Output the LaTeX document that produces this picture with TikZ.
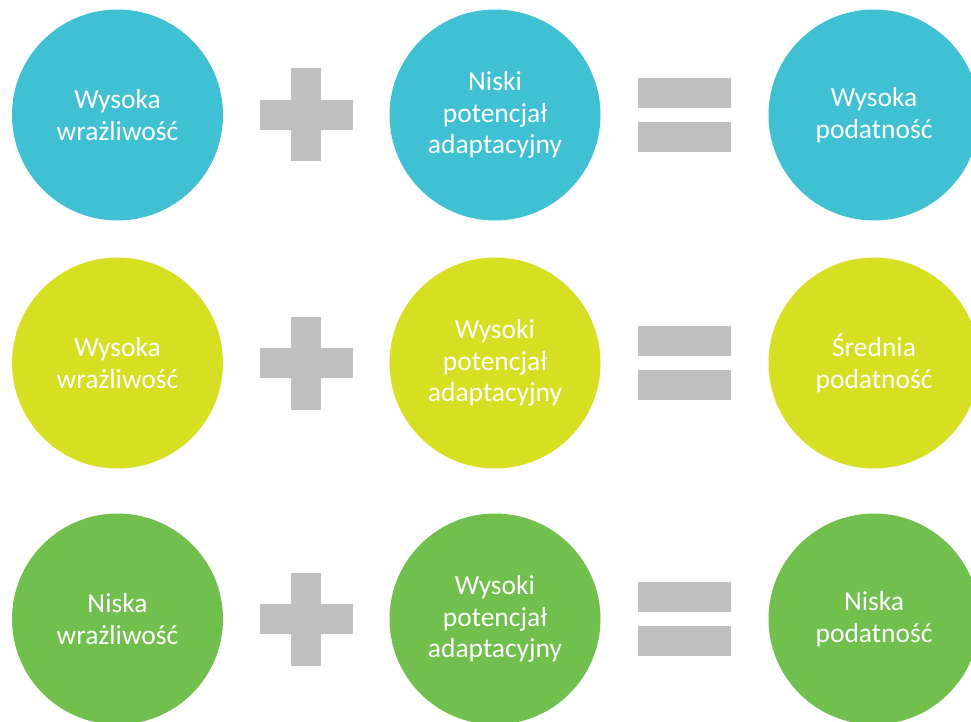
\documentclass[tikz,border=0pt]{standalone}
\usepackage{fontspec}
\setmainfont{Carlito}
\usetikzlibrary{positioning,calc}
\definecolor{turkus}{HTML}{3FC1D3}
\definecolor{limonka}{HTML}{D7DF23}
\definecolor{zielen}{HTML}{71BF4C}
\definecolor{szary}{HTML}{BFBFBF}

\begin{document}
\begin{tikzpicture}
[
    x=1pt, y=-1pt,
    kolo/.style={circle, minimum size=211pt, inner sep=0pt, text=white,
        align=center, font=\fontsize{27.5}{31.5}\selectfont},
    belka/.style={fill=szary, inner sep=0pt, minimum width=93pt, minimum height=30pt},
    slupek/.style={fill=szary, inner sep=0pt, minimum width=30pt, minimum height=93pt},
]
\useasboundingbox (0,0) rectangle (971,722);
\foreach \y/\kol/\lewy/\srodek/\prawy/\n in {
    115/turkus/Wysoka\\wrażliwość/Niski\\potencjał\\adaptacyjny/Wysoka\\podatność/1,
    363/limonka/Wysoka\\wrażliwość/Wysoki\\potencjał\\adaptacyjny/Średnia\\podatność/2,
    619/zielen/Niska\\wrażliwość/Wysoki\\potencjał\\adaptacyjny/Niska\\podatność/3}
{
    \node [kolo, fill=\kol] (wra\n) at (117.5,\y) {\lewy};
    \node [kolo, fill=\kol] (pot\n) at (495,\y) {\srodek};
    \node [kolo, fill=\kol] (pod\n) at (874,\y) {\prawy};
    % plus
    \node [slupek] (plusV\n) at ($(wra\n)!0.5!(pot\n)$) {};
    \node [belka] (plusH\n) at (plusV\n) {};
    % rowna sie
    \coordinate (rowne\n) at ($(pot\n)!0.5!(pod\n)$);
    \node [belka, above=7pt of rowne\n] (rowneG\n) {};
    \node [belka, below=7pt of rowne\n] (rowneD\n) {};
}
\end{tikzpicture}
\end{document}
